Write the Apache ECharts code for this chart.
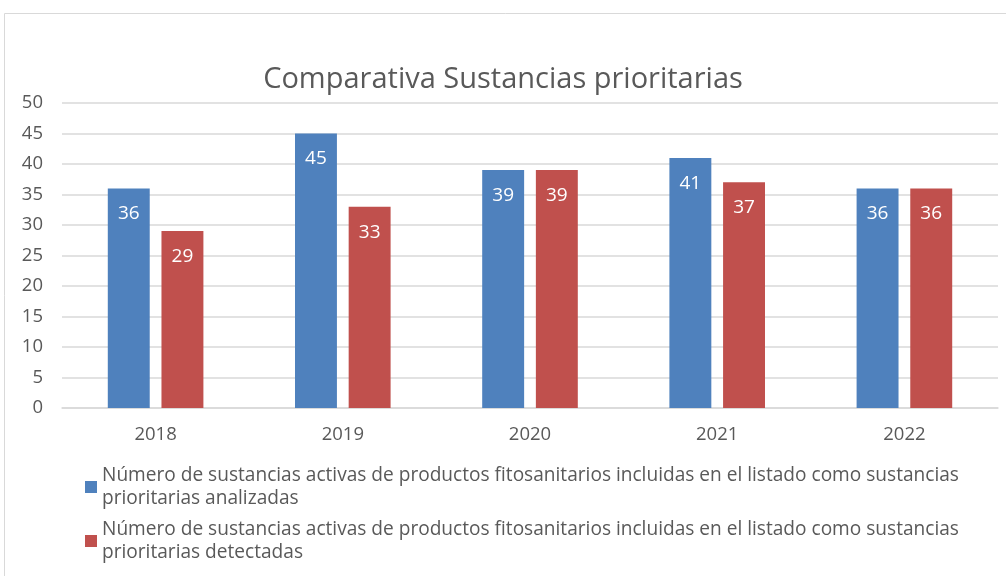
<!DOCTYPE html>
<html><head><meta charset="utf-8">
<script src="https://cdn.jsdelivr.net/npm/echarts@6/dist/echarts.min.js"></script>
<style>html,body{margin:0;padding:0;background:#fff}#c{width:1006px;height:576px}</style>
</head><body><div id="c"></div>
<script>
const categories = ['2018','2019','2020','2021','2022'];
const analizadas = [36,45,39,41,36];
const detectadas = [29,33,39,37,36];
const seriesNames = [
  'Número de sustancias activas de productos fitosanitarios incluidas en el listado como sustancias prioritarias analizadas',
  'Número de sustancias activas de productos fitosanitarios incluidas en el listado como sustancias prioritarias detectadas'
];
const titleText = 'Comparativa Sustancias prioritarias';
const FONT = 'Open Sans';
const chart = echarts.init(document.getElementById('c'), null, {renderer:'canvas'});
const lbl = {show:true, position:'insideTop', distance:16, color:'#fff', fontSize:19, fontFamily:FONT};
chart.setOption({
  animation:false,
  graphic:[{type:'rect', shape:{x:4.5,y:13.5,width:1010,height:600}, style:{fill:'none', stroke:'#d9d9d9', lineWidth:1}}],
  title:{text:titleText, left:'center', top:60, textStyle:{fontFamily:FONT, fontSize:29, fontWeight:'normal', color:'#595959'}},
  grid:{left:62, right:8, top:103, bottom:168},
  legend:{orient:'vertical', left:80, top:459, itemWidth:12, itemHeight:12, itemGap:8, icon:'rect',
    formatter: n => n.replace(' sustancias prioritarias', ' sustancias\nprioritarias'),
    textStyle:{fontFamily:FONT, fontSize:19.1, color:'#595959', lineHeight:23}},
  xAxis:{type:'category', data:categories, axisTick:{show:false},
    axisLine:{lineStyle:{color:'#d9d9d9', width:1.5}},
    axisLabel:{fontFamily:FONT, fontSize:18.5, color:'#595959', margin:17}},
  yAxis:{type:'value', min:0, max:50, interval:5,
    axisLine:{show:false}, axisTick:{show:false},
    splitLine:{lineStyle:{color:'#d9d9d9', width:1.5}},
    axisLabel:{fontFamily:FONT, fontSize:18.5, color:'#595959', margin:19}},
  series:[
    {name:seriesNames[0], type:'bar', data:analizadas, barWidth:'22.4%', barGap:'28%', itemStyle:{color:'#4F81BD'}, label:lbl},
    {name:seriesNames[1], type:'bar', data:detectadas, barWidth:'22.4%', itemStyle:{color:'#C0504D'}, label:lbl}
  ]
});
</script></body></html>
